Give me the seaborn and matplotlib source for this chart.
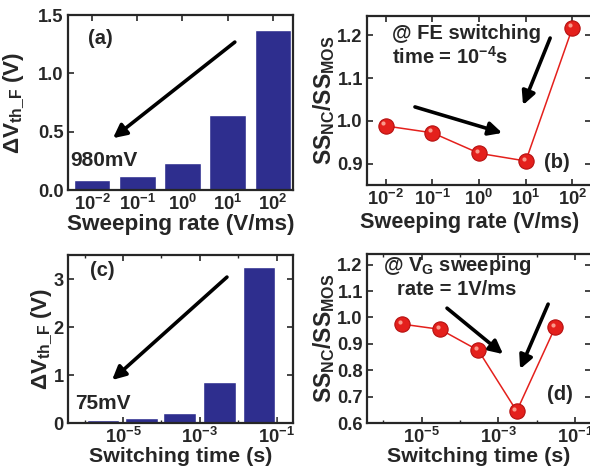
import matplotlib
matplotlib.use("Agg")
import matplotlib.pyplot as plt
import matplotlib.ticker as mticker
from matplotlib.transforms import offset_copy
import seaborn as sns

# data
rate_labels = ["$10^{-2}$", "$10^{-1}$", "$10^{0}$", "$10^{1}$", "$10^{2}$"]
rates = [1e-2, 1e-1, 1e0, 1e1, 1e2]                 # V/ms
dvth_rate = [0.09, 0.125, 0.235, 0.645, 1.37]        # (a) V
ss_rate = [0.988, 0.972, 0.924, 0.906, 1.218]        # (b)

times = [3e-6, 3e-5, 3e-4, 3.3e-3, 3.5e-2]           # s, bars (c)
dvth_time = [0.07, 0.10, 0.21, 0.86, 3.26]           # (c) V
times_d = [3e-6, 3e-5, 3e-4, 3e-3, 3e-2]             # s, points (d)
ss_time = [0.975, 0.955, 0.875, 0.645, 0.962]        # (d)

BAR = "#2E2E8E"
RED = "#E4201C"

sns.set_style("ticks")
plt.rcParams["font.family"] = ["Liberation Sans", "DejaVu Sans"]
plt.rcParams["font.weight"] = "bold"
plt.rcParams["axes.labelweight"] = "bold"
plt.rcParams["mathtext.fontset"] = "custom"
plt.rcParams["mathtext.rm"] = "Liberation Sans:bold"
plt.rcParams["mathtext.it"] = "Liberation Sans:bold"
plt.rcParams["mathtext.bf"] = "Liberation Sans:bold"

fig = plt.figure(figsize=(5.9, 4.73), dpi=100)
ax_a = fig.add_axes([0.1153, 0.598, 0.381, 0.370])
ax_b = fig.add_axes([0.622, 0.609, 0.380, 0.357])
ax_c = fig.add_axes([0.1153, 0.1057, 0.381, 0.355])
ax_d = fig.add_axes([0.622, 0.1057, 0.380, 0.357])

TCK = 13.2
ANN = 14.5


def style(ax):
    ax.tick_params(direction="in", top=True, right=True, length=4, width=1.2,
                   labelsize=TCK, pad=3)
    ax.tick_params(which="minor", direction="in", top=True, right=True,
                   length=2.5, width=1)
    for s in ax.spines.values():
        s.set_linewidth(1.6)
        s.set_visible(True)


def arrow(ax, tail, head):
    ax.annotate("", xy=head, xytext=tail, xycoords="axes fraction",
                textcoords="axes fraction",
                arrowprops=dict(arrowstyle="-|>", lw=2.6, color="black",
                                mutation_scale=20, shrinkA=0, shrinkB=0))


def balls(ax, x, y):
    sns.lineplot(x=x, y=y, color=RED, lw=1.1, marker="o", markersize=11,
                 markeredgecolor="#B51010", markeredgewidth=0.8, ax=ax)
    # small glossy highlight on each ball
    shift = offset_copy(ax.transData, fig=fig, x=-1.6, y=1.8, units="points")
    ax.scatter(x, y, s=9, color="#FFB0A0", alpha=0.85, lw=0,
               transform=shift, zorder=5)


# (a) threshold shift vs sweeping rate
sns.barplot(x=rate_labels, y=dvth_rate, color=BAR, width=0.81, saturation=1,
            ax=ax_a)
ax_a.set_xlim(-0.53, 4.44)
ax_a.set_ylim(0, 1.5)
ax_a.set_yticks([0, 0.5, 1.0, 1.5])
ax_a.yaxis.set_major_formatter(mticker.FormatStrFormatter("%.1f"))
ax_a.set_xlabel("Sweeping rate (V/ms)", fontsize=16.2, labelpad=0)
ax_a.set_ylabel(r"ΔV$_{th\_F}$ (V)", fontsize=16.2, labelpad=8)
style(ax_a)
ax_a.text(0.142, 0.869, "(a)", transform=ax_a.transAxes, fontsize=ANN,
          ha="center", va="center")
ax_a.text(0.009, 0.171, "980mV", transform=ax_a.transAxes, fontsize=ANN + 0.5,
          ha="left", va="center")
arrow(ax_a, (0.742, 0.846), (0.2, 0.297))

# (b) SS ratio vs sweeping rate
balls(ax_b, rates, ss_rate)
ax_b.set_xscale("log")
ax_b.set_xlim(10 ** -2.4, 10 ** 2.4)
ax_b.set_ylim(0.85, 1.245)
ax_b.set_yticks([0.9, 1.0, 1.1, 1.2])
ax_b.xaxis.set_major_locator(mticker.FixedLocator(rates))
ax_b.xaxis.set_minor_locator(mticker.NullLocator())
ax_b.set_xlabel("Sweeping rate (V/ms)", fontsize=15.6)
ax_b.xaxis.set_label_coords(0.46, -0.16)
ax_b.set_ylabel(r"SS$_{NC}$/SS$_{MOS}$", fontsize=16.5, labelpad=0)
style(ax_b)
ax_b.text(0.112, 0.899, "@ FE switching", transform=ax_b.transAxes,
          fontsize=ANN, ha="left", va="center")
ax_b.text(0.112, 0.757, "time = 10$^{-4}$s", transform=ax_b.transAxes,
          fontsize=ANN, ha="left", va="center")
ax_b.text(0.848, 0.130, "(b)", transform=ax_b.transAxes, fontsize=ANN,
          ha="center", va="center")
arrow(ax_b, (0.214, 0.462), (0.603, 0.308))
arrow(ax_b, (0.817, 0.870), (0.696, 0.473))

# (c) threshold shift vs switching time
sns.barplot(x=times, y=dvth_time, color=BAR, width=0.85, saturation=1,
            native_scale=True, log_scale=(True, False), orient="x",
            errorbar=None, ax=ax_c)
ax_c.set_xlim(10 ** -6.43, 10 ** -0.58)
ax_c.set_ylim(0, 3.5)
ax_c.set_yticks([0, 1, 2, 3])
ax_c.xaxis.set_major_locator(mticker.FixedLocator([1e-5, 1e-3, 1e-1]))
ax_c.xaxis.set_minor_locator(mticker.FixedLocator([1e-6, 1e-4, 1e-2]))
ax_c.xaxis.set_minor_formatter(mticker.NullFormatter())
ax_c.set_xlabel("Switching time (s)", fontsize=15.4, labelpad=0)
ax_c.set_ylabel(r"ΔV$_{th\_F}$ (V)", fontsize=16.2, labelpad=-1)
style(ax_c)
ax_c.text(0.151, 0.911, "(c)", transform=ax_c.transAxes, fontsize=ANN,
          ha="center", va="center")
ax_c.text(0.031, 0.119, "75mV", transform=ax_c.transAxes, fontsize=ANN + 0.5,
          ha="left", va="center")
arrow(ax_c, (0.707, 0.869), (0.196, 0.256))

# (d) SS ratio vs switching time
balls(ax_d, times_d, ss_time)
ax_d.set_xscale("log")
ax_d.set_xlim(10 ** -6.43, 10 ** -0.58)
ax_d.set_ylim(0.6, 1.24)
ax_d.set_yticks([0.6, 0.7, 0.8, 0.9, 1.0, 1.1, 1.2])
ax_d.xaxis.set_major_locator(mticker.FixedLocator([1e-5, 1e-3, 1e-1]))
ax_d.xaxis.set_minor_locator(mticker.FixedLocator([1e-6, 1e-4, 1e-2]))
ax_d.xaxis.set_minor_formatter(mticker.NullFormatter())
ax_d.set_xlabel("Switching time (s)", fontsize=15.4, labelpad=0)
ax_d.set_ylabel(r"SS$_{NC}$/SS$_{MOS}$", fontsize=16.5, labelpad=0)
style(ax_d)
ax_d.text(0.402, 0.935, "@ V$_G$ sweeping", transform=ax_d.transAxes,
          fontsize=ANN, ha="center", va="center")
ax_d.text(0.402, 0.793, "rate = 1V/ms", transform=ax_d.transAxes,
          fontsize=ANN, ha="center", va="center")
ax_d.text(0.862, 0.166, "(d)", transform=ax_d.transAxes, fontsize=ANN,
          ha="center", va="center")
arrow(ax_d, (0.357, 0.680), (0.607, 0.408))
arrow(ax_d, (0.808, 0.704), (0.683, 0.320))

fig.savefig("out.png", dpi=100)
